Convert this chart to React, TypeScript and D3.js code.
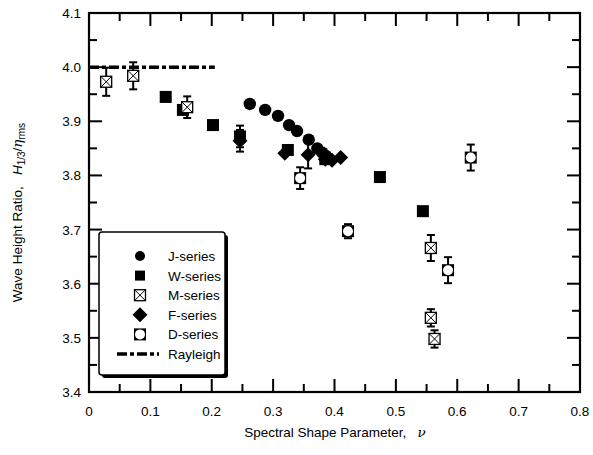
import React from "react";
import * as d3 from "d3";

// ---- data ----
const J_X = [0.262, 0.287, 0.308, 0.326, 0.339, 0.358, 0.372, 0.38, 0.386];
const J_Y = [3.932, 3.921, 3.91, 3.893, 3.882, 3.866, 3.85, 3.842, 3.836];

const W_X = [0.125, 0.153, 0.202, 0.246, 0.324, 0.385, 0.474, 0.544];
const W_Y = [3.945, 3.921, 3.893, 3.872, 3.847, 3.83, 3.797, 3.734];
const W_ERR = [0, 0, 0, 0.02, 0, 0, 0, 0];

const M_X = [0.028, 0.072, 0.16, 0.557, 0.557, 0.563];
const M_Y = [3.973, 3.984, 3.926, 3.666, 3.537, 3.498];
const M_ERR = [0.026, 0.025, 0.02, 0.024, 0.016, 0.016];

const F_X = [0.246, 0.319, 0.357, 0.385, 0.396, 0.41];
const F_Y = [3.864, 3.841, 3.838, 3.83, 3.828, 3.833];
const F_ERR = [0.02, 0, 0.025, 0, 0, 0];

const D_X = [0.344, 0.422, 0.585, 0.622];
const D_Y = [3.795, 3.697, 3.625, 3.833];
const D_ERR = [0.02, 0.013, 0.024, 0.024];

const RAYLEIGH_X = [0, 0.205];
const RAYLEIGH_Y = [4.0, 4.0];

const X_TICKS = [0, 0.1, 0.2, 0.3, 0.4, 0.5, 0.6, 0.7, 0.8];
const Y_TICKS = [3.4, 3.5, 3.6, 3.7, 3.8, 3.9, 4.0, 4.1];

const LEGEND = ["J-series", "W-series", "M-series", "F-series", "D-series", "Rayleigh"];

const FONT = "'Liberation Sans', Arial, sans-serif";

function Circle({ cx, cy }: { cx: number; cy: number }) {
  return <circle cx={cx} cy={cy} r={6.2} fill="#000" />;
}
function Square({ cx, cy }: { cx: number; cy: number }) {
  return <rect x={cx - 6} y={cy - 6} width={12} height={12} fill="#000" />;
}
function XBox({ cx, cy }: { cx: number; cy: number }) {
  const s = 5.5;
  return (
    <g>
      <rect x={cx - s} y={cy - s} width={2 * s} height={2 * s} fill="#fff" stroke="#000" strokeWidth={1.3} />
      <path d={`M${cx - s},${cy - s}L${cx + s},${cy + s}M${cx + s},${cy - s}L${cx - s},${cy + s}`} stroke="#000" strokeWidth={1} />
    </g>
  );
}
function Diamond({ cx, cy }: { cx: number; cy: number }) {
  const s = 7.5;
  return <path d={`M${cx},${cy - s}L${cx + s},${cy}L${cx},${cy + s}L${cx - s},${cy}Z`} fill="#000" />;
}
function DSym({ cx, cy }: { cx: number; cy: number }) {
  return (
    <g>
      <rect x={cx - 6} y={cy - 6} width={12} height={12} fill="#000" />
      <circle cx={cx} cy={cy} r={5} fill="#fff" />
    </g>
  );
}

export default function App() {
  const W = 593, H = 455;
  const L = 89, R = 580, T = 13, B = 392;
  const x = d3.scaleLinear().domain([0, 0.8]).range([L, R]);
  const y = d3.scaleLinear().domain([3.4, 4.1]).range([B, T]);

  const minorX = d3.range(0, 0.8001, 0.05);
  const minorY = d3.range(3.4, 4.1001, 0.05);
  const isMajor = (v: number) => Math.abs(v * 10 - Math.round(v * 10)) < 1e-6;

  const errBar = (cx: number, v: number, e: number, key: string) => {
    if (!e) return null;
    const y1 = y(v + e), y2 = y(v - e);
    return (
      <g key={key} stroke="#000" strokeWidth={2}>
        <line x1={cx} x2={cx} y1={y1} y2={y2} />
        <line x1={cx - 4} x2={cx + 4} y1={y1} y2={y1} />
        <line x1={cx - 4} x2={cx + 4} y1={y2} y2={y2} />
      </g>
    );
  };

  const line = d3.line<number>().x((_, i) => x(RAYLEIGH_X[i])).y((d) => y(d));

  // legend
  const lgX = 99, lgY = 232, lgW = 126, lgH = 143;
  const rowY = (i: number) => lgY + 24 + i * 19.6;
  const symX = lgX + 41;

  return (
    <svg width={W} height={H} style={{ position: "absolute", left: 0, top: 0, background: "#fff" }} fontFamily={FONT}>
      <rect width={W} height={H} fill="#fff" />
      {/* ticks */}
      <g stroke="#000" strokeWidth={2}>
        {minorX.map((v, i) => {
          const len = isMajor(v) ? 13 : 8;
          return (
            <g key={"tx" + i}>
              <line x1={x(v)} x2={x(v)} y1={B} y2={B - len} />
              <line x1={x(v)} x2={x(v)} y1={T} y2={T + len} />
            </g>
          );
        })}
        {minorY.map((v, i) => {
          const len = isMajor(v) ? 13 : 8;
          return (
            <g key={"ty" + i}>
              <line x1={L} x2={L + len} y1={y(v)} y2={y(v)} />
              <line x1={R} x2={R - len} y1={y(v)} y2={y(v)} />
            </g>
          );
        })}
      </g>
      <rect x={L} y={T} width={R - L} height={B - T} fill="none" stroke="#000" strokeWidth={2.2} />

      {/* tick labels */}
      <g fontSize={13.5} fill="#000">
        {X_TICKS.map((v) => (
          <text key={"xl" + v} x={x(v)} y={B + 24} textAnchor="middle">
            {v === 0 ? "0" : v.toFixed(1)}
          </text>
        ))}
        {Y_TICKS.map((v) => (
          <text key={"yl" + v} x={L - 8} y={y(v) + 5} textAnchor="end">
            {v.toFixed(1)}
          </text>
        ))}
      </g>

      {/* axis titles */}
      <text x={335} y={437} textAnchor="middle" fontSize={13.5}>
        Spectral  Shape  Parameter,{"\u00a0\u00a0\u00a0"}
        <tspan fontStyle="italic" fontFamily="'DejaVu Serif', serif">ν</tspan>
      </text>
      <text transform={`translate(22,${(T + B) / 2 + 10}) rotate(-90)`} textAnchor="middle" fontSize={13.5}>
        Wave  Height  Ratio,{"\u00a0\u00a0\u00a0"}
        <tspan fontStyle="italic">H</tspan>
        <tspan fontSize={10} dy={3}>1/3</tspan>
        <tspan dy={-3}>/</tspan>
        <tspan fontStyle="italic" fontFamily="'DejaVu Serif', serif">η</tspan>
        <tspan fontSize={10} dy={3}>rms</tspan>
      </text>

      {/* Rayleigh */}
      <path d={line(RAYLEIGH_Y) || ""} fill="none" stroke="#000" strokeWidth={3.5} strokeDasharray="10,3,4,3" />

      {/* error bars */}
      {W_X.map((v, i) => errBar(x(v), W_Y[i], W_ERR[i], "we" + i))}
      {F_X.map((v, i) => errBar(x(v), F_Y[i], F_ERR[i], "fe" + i))}
      {M_X.map((v, i) => errBar(x(v), M_Y[i], M_ERR[i], "me" + i))}
      {D_X.map((v, i) => errBar(x(v), D_Y[i], D_ERR[i], "de" + i))}

      {/* markers */}
      {W_X.map((v, i) => <Square key={"w" + i} cx={x(v)} cy={y(W_Y[i])} />)}
      {J_X.map((v, i) => <Circle key={"j" + i} cx={x(v)} cy={y(J_Y[i])} />)}
      {F_X.map((v, i) => <Diamond key={"f" + i} cx={x(v)} cy={y(F_Y[i])} />)}
      {M_X.map((v, i) => <XBox key={"m" + i} cx={x(v)} cy={y(M_Y[i])} />)}
      {D_X.map((v, i) => <DSym key={"d" + i} cx={x(v)} cy={y(D_Y[i])} />)}

      {/* legend */}
      <rect x={lgX + 3} y={lgY + 3} width={lgW} height={lgH} rx={3} fill="#000" />
      <rect x={lgX} y={lgY} width={lgW} height={lgH} rx={3} fill="#fff" stroke="#000" strokeWidth={1.5} />
      {LEGEND.map((name, i) => {
        const cy = rowY(i);
        let sym: React.ReactNode = null;
        if (i === 0) sym = <circle cx={symX} cy={cy} r={5} fill="#000" />;
        if (i === 1) sym = <rect x={symX - 5} y={cy - 5} width={10} height={10} fill="#000" />;
        if (i === 2) sym = <XBox cx={symX} cy={cy} />;
        if (i === 3) sym = <Diamond cx={symX} cy={cy} />;
        if (i === 4) sym = <DSym cx={symX} cy={cy} />;
        if (i === 5)
          sym = <line x1={lgX + 18} x2={lgX + 60} y1={cy} y2={cy} stroke="#000" strokeWidth={3.5} strokeDasharray="10,3,4,3" />;
        return (
          <g key={name}>
            {sym}
            <text x={lgX + 69} y={cy + 5} fontSize={13.5}>{name}</text>
          </g>
        );
      })}
    </svg>
  );
}
